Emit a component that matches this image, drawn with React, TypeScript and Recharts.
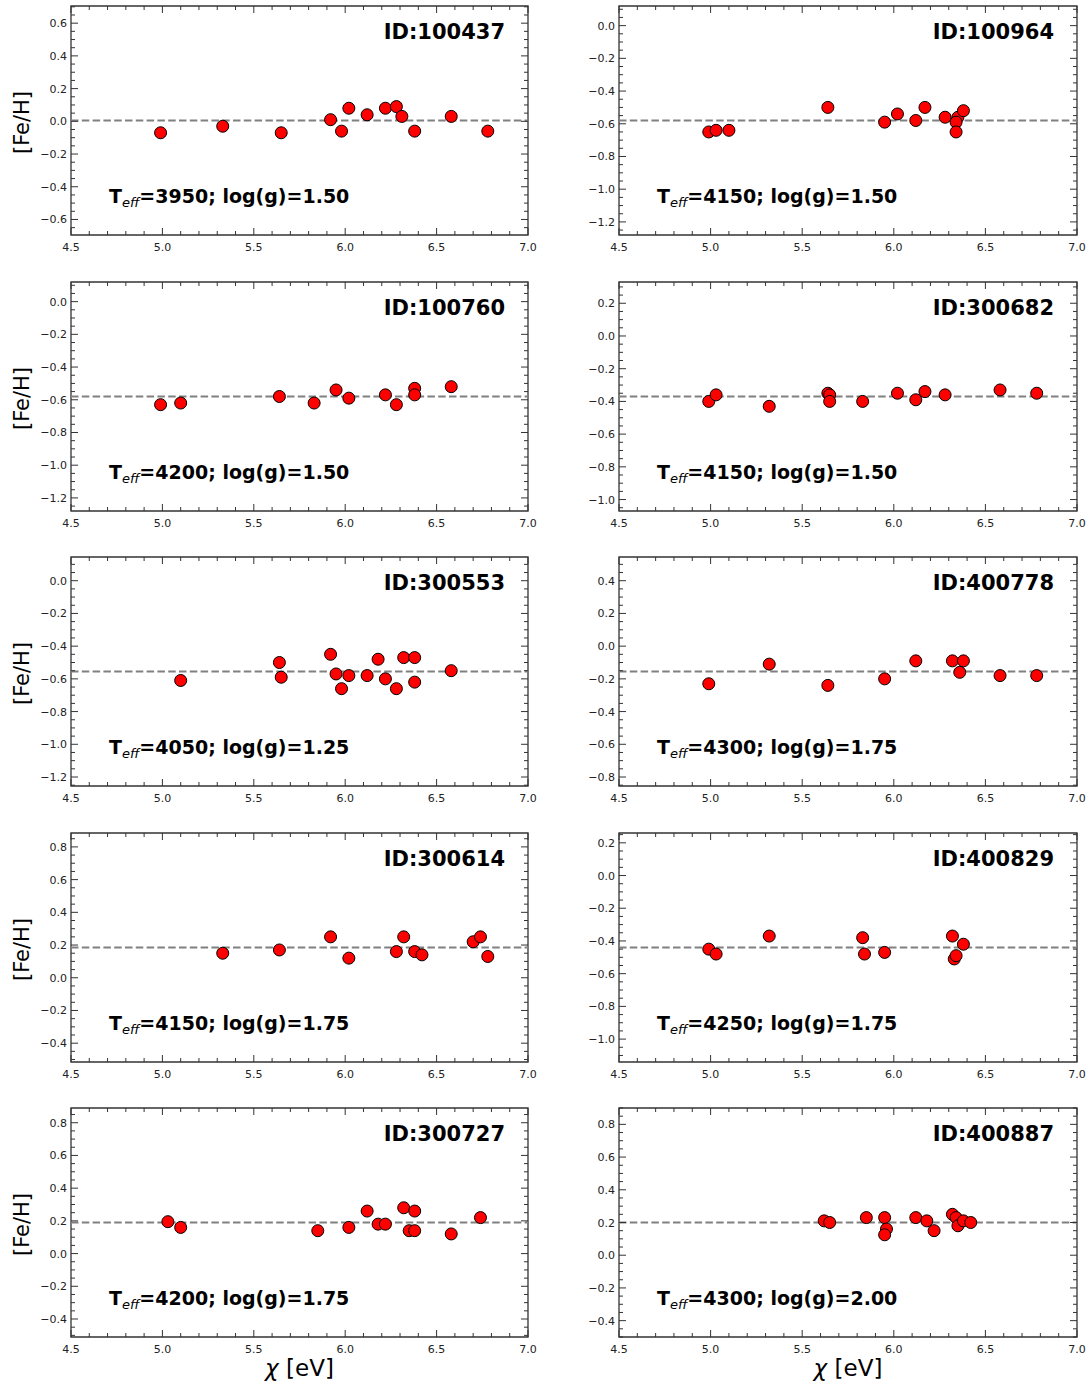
import React from 'react';
import { ScatterChart, Scatter, XAxis, YAxis, ReferenceLine, ReferenceArea, Label } from 'recharts';

// star parameters
const starIds = ['100437', '100964', '100760', '300682', '300553', '400778', '300614', '400829', '300727', '400887'];
const teffs = [3950, 4150, 4200, 4150, 4050, 4300, 4150, 4250, 4200, 4300];
const loggs = ['1.50', '1.50', '1.50', '1.50', '1.25', '1.75', '1.75', '1.75', '1.75', '2.00'];
const meanFeH = [0.005, -0.58, -0.58, -0.37, -0.555, -0.155, 0.185, -0.44, 0.19, 0.2];

// excitation potential (eV) and [Fe/H] per line
const chi100437 = [4.99, 5.33, 5.65, 5.92, 5.98, 6.02, 6.12, 6.22, 6.28, 6.31, 6.38, 6.58, 6.78];
const feh100437 = [-0.07, -0.03, -0.07, 0.01, -0.06, 0.08, 0.04, 0.08, 0.09, 0.03, -0.06, 0.03, -0.06];

const chi100964 = [4.99, 5.03, 5.1, 5.64, 5.95, 6.02, 6.12, 6.17, 6.28, 6.35, 6.34, 6.34, 6.38];
const feh100964 = [-0.65, -0.64, -0.64, -0.5, -0.59, -0.54, -0.58, -0.5, -0.56, -0.56, -0.59, -0.65, -0.52];

const chi100760 = [4.99, 5.1, 5.64, 5.83, 5.95, 6.02, 6.22, 6.28, 6.38, 6.38, 6.58];
const feh100760 = [-0.63, -0.62, -0.58, -0.62, -0.54, -0.59, -0.57, -0.63, -0.53, -0.57, -0.52];

const chi300682 = [4.99, 5.03, 5.32, 5.64, 5.65, 5.65, 5.83, 6.02, 6.12, 6.17, 6.28, 6.58, 6.78];
const feh300682 = [-0.4, -0.36, -0.43, -0.35, -0.36, -0.4, -0.4, -0.35, -0.39, -0.34, -0.36, -0.33, -0.35];

const chi300553 = [5.1, 5.64, 5.65, 5.92, 5.95, 5.98, 6.02, 6.12, 6.18, 6.22, 6.28, 6.32, 6.38, 6.38, 6.58];
const feh300553 = [-0.61, -0.5, -0.59, -0.45, -0.57, -0.66, -0.58, -0.58, -0.48, -0.6, -0.66, -0.47, -0.47, -0.62, -0.55];

const chi400778 = [4.99, 5.32, 5.64, 5.95, 6.12, 6.32, 6.38, 6.36, 6.58, 6.78];
const feh400778 = [-0.23, -0.11, -0.24, -0.2, -0.09, -0.09, -0.09, -0.16, -0.18, -0.18];

const chi300614 = [5.33, 5.64, 5.92, 6.02, 6.28, 6.32, 6.38, 6.42, 6.7, 6.74, 6.78];
const feh300614 = [0.15, 0.17, 0.25, 0.12, 0.16, 0.25, 0.16, 0.14, 0.22, 0.25, 0.13];

const chi400829 = [4.99, 5.03, 5.32, 5.83, 5.84, 5.95, 6.32, 6.33, 6.34, 6.38];
const feh400829 = [-0.45, -0.48, -0.37, -0.38, -0.48, -0.47, -0.37, -0.51, -0.49, -0.42];

const chi300727 = [5.03, 5.1, 5.85, 6.02, 6.12, 6.18, 6.22, 6.32, 6.35, 6.38, 6.38, 6.58, 6.74];
const feh300727 = [0.195, 0.16, 0.14, 0.16, 0.26, 0.18, 0.18, 0.28, 0.14, 0.26, 0.14, 0.12, 0.22];

const chi400887 = [5.62, 5.65, 5.85, 5.95, 5.96, 5.95, 6.12, 6.18, 6.22, 6.32, 6.34, 6.35, 6.38, 6.42];
const feh400887 = [0.21, 0.2, 0.23, 0.23, 0.16, 0.125, 0.23, 0.21, 0.15, 0.25, 0.23, 0.18, 0.21, 0.2];

// tick labels
const xMajor = [4.5, 5.0, 5.5, 6.0, 6.5, 7.0];
const yMajorA = [-0.6, -0.4, -0.2, 0.0, 0.2, 0.4, 0.6];
const yMajorB = [-1.2, -1.0, -0.8, -0.6, -0.4, -0.2, 0.0];
const yMajorC = [-1.0, -0.8, -0.6, -0.4, -0.2, 0.0, 0.2];
const yMajorD = [-0.8, -0.6, -0.4, -0.2, 0.0, 0.2, 0.4];
const yMajorE = [-0.4, -0.2, 0.0, 0.2, 0.4, 0.6, 0.8];

const chis = [chi100437, chi100964, chi100760, chi300682, chi300553, chi400778, chi300614, chi400829, chi300727, chi400887];
const fehs = [feh100437, feh100964, feh100760, feh300682, feh300553, feh400778, feh300614, feh400829, feh300727, feh400887];
const yMajors = [yMajorA, yMajorB, yMajorB, yMajorC, yMajorB, yMajorD, yMajorE, yMajorC, yMajorE, yMajorE];

const FONT = 'DejaVu Sans';
const PH = 229;
const HALF_RANGE = 0.7;

const fmt = (v: number) => (Math.abs(v) < 1e-9 ? '0.0' : v.toFixed(1).replace('-', '\u2212'));
const near = (a: number, b: number) => Math.abs(a - b) < 1e-6;

const xTicks: number[] = [];
for (let k = 45; k <= 70; k++) xTicks.push(k / 10);

const makeXTick = () => (props: any) => {
  const { x, y, payload } = props;
  const v = payload.value as number;
  const major = xMajor.some((m) => near(m, v));
  const len = major ? 7 : 4;
  return (
    <g>
      <line x1={x} y1={y} x2={x} y2={y - len} stroke="#333" strokeWidth={1} />
      <line x1={x} y1={y - PH} x2={x} y2={y - PH + len} stroke="#333" strokeWidth={1} />
      {major && (
        <text x={x} y={y + 16} textAnchor="middle" fontSize={11} fontFamily={FONT} fill="#222">
          {fmt(v)}
        </text>
      )}
    </g>
  );
};

const makeYTick = (pw: number, majors: number[]) => (props: any) => {
  const { x, y, payload } = props;
  const v = payload.value as number;
  const major = majors.some((m) => near(m, v));
  const len = major ? 7 : 4;
  return (
    <g>
      <line x1={x} y1={y} x2={x + len} y2={y} stroke="#333" strokeWidth={1} />
      <line x1={x + pw} y1={y} x2={x + pw - len} y2={y} stroke="#333" strokeWidth={1} />
      {major && (
        <text x={x - 4} y={y + 4} textAnchor="end" fontSize={11} fontFamily={FONT} fill="#222">
          {fmt(v)}
        </text>
      )}
    </g>
  );
};

const Panel = ({ idx }: { idx: number }) => {
  const col = idx % 2;
  const row = Math.floor(idx / 2);
  const last = row === 4;
  const width = col === 0 ? 545 : 543;
  const pw = col === 0 ? 457 : 458;
  const height = last ? 285 : 275;
  const mean = meanFeH[idx];
  const lo = mean - HALF_RANGE;
  const hi = mean + HALF_RANGE;

  const yTicks: number[] = [];
  for (let k = Math.ceil(lo * 20 - 1e-9); k <= Math.floor(hi * 20 + 1e-9); k++) yTicks.push(k / 20);

  const data = chis[idx].map((x, i) => ({ x, y: fehs[idx][i] }));

  const annot = (p: any) => {
    const vb = p.viewBox;
    return (
      <g fontFamily={FONT} fontWeight="bold" fill="#000">
        <text x={vb.x + vb.width - 23} y={vb.y + 33} textAnchor="end" fontSize={21}>
          ID:{starIds[idx]}
        </text>
        <text x={vb.x + 38} y={vb.y + 197} fontSize={19}>
          <tspan>T</tspan>
          <tspan fontStyle="italic" fontWeight="normal" fontSize={13} dy={4}>eff</tspan>
          <tspan dy={-4}>={teffs[idx]}; log(g)={loggs[idx]}</tspan>
        </text>
      </g>
    );
  };

  const yLabel = (p: any) => {
    const vb = p.viewBox;
    const cx = vb.x + 22;
    const cy = vb.y + vb.height / 2 + 2;
    return (
      <text x={cx} y={cy} transform={`rotate(-90 ${cx} ${cy})`} textAnchor="middle" dominantBaseline="central"
        fontSize={21} fontFamily={FONT} fill="#000">
        [Fe/H]
      </text>
    );
  };

  const xLabel = (p: any) => {
    const vb = p.viewBox;
    return (
      <text x={vb.x + vb.width / 2} y={vb.y + 39} textAnchor="middle" fontSize={23} fontFamily={FONT} fill="#000">
        <tspan fontStyle="italic">χ</tspan> [eV]
      </text>
    );
  };

  return (
    <ScatterChart width={width} height={height} margin={{ top: 6, right: width - 71 - pw, bottom: 0, left: 0 }}>
      <XAxis
        dataKey="x"
        type="number"
        domain={[4.5, 7.0]}
        allowDataOverflow
        ticks={xTicks}
        interval={0}
        tickSize={0}
        tickMargin={0}
        tickLine={false}
        axisLine={false}
        height={height - 6 - PH}
        tick={makeXTick()}
      >
        {last && <Label content={xLabel} />}
      </XAxis>
      <YAxis
        dataKey="y"
        type="number"
        domain={[lo, hi]}
        allowDataOverflow
        ticks={yTicks}
        interval={0}
        tickSize={0}
        tickMargin={0}
        tickLine={false}
        axisLine={false}
        width={71}
        tick={makeYTick(pw, yMajors[idx])}
      >
        {col === 0 && <Label content={yLabel} />}
      </YAxis>
      <ReferenceArea x1={4.5} x2={7.0} y1={lo} y2={hi} fill="none" stroke="#333" strokeWidth={1.3} ifOverflow="visible">
        <Label content={annot} />
      </ReferenceArea>
      <ReferenceLine y={mean} stroke="#808080" strokeWidth={2} strokeDasharray="7.5 3.3" />
      <Scatter
        data={data}
        isAnimationActive={false}
        shape={(p: any) => <circle cx={p.cx} cy={p.cy} r={6} fill="#ff0000" stroke="#000" strokeWidth={1} />}
      />
    </ScatterChart>
  );
};

export default function App() {
  return (
    <div
      style={{
        position: 'absolute',
        left: 0,
        top: 0,
        width: 1091,
        height: 1387,
        background: '#fff',
        overflow: 'hidden',
      }}
    >
      {starIds.map((id, i) => (
        <div
          key={id}
          style={{ position: 'absolute', left: i % 2 === 0 ? 0 : 548, top: Math.round(Math.floor(i / 2) * 275.5) }}
        >
          <Panel idx={i} />
        </div>
      ))}
    </div>
  );
}
